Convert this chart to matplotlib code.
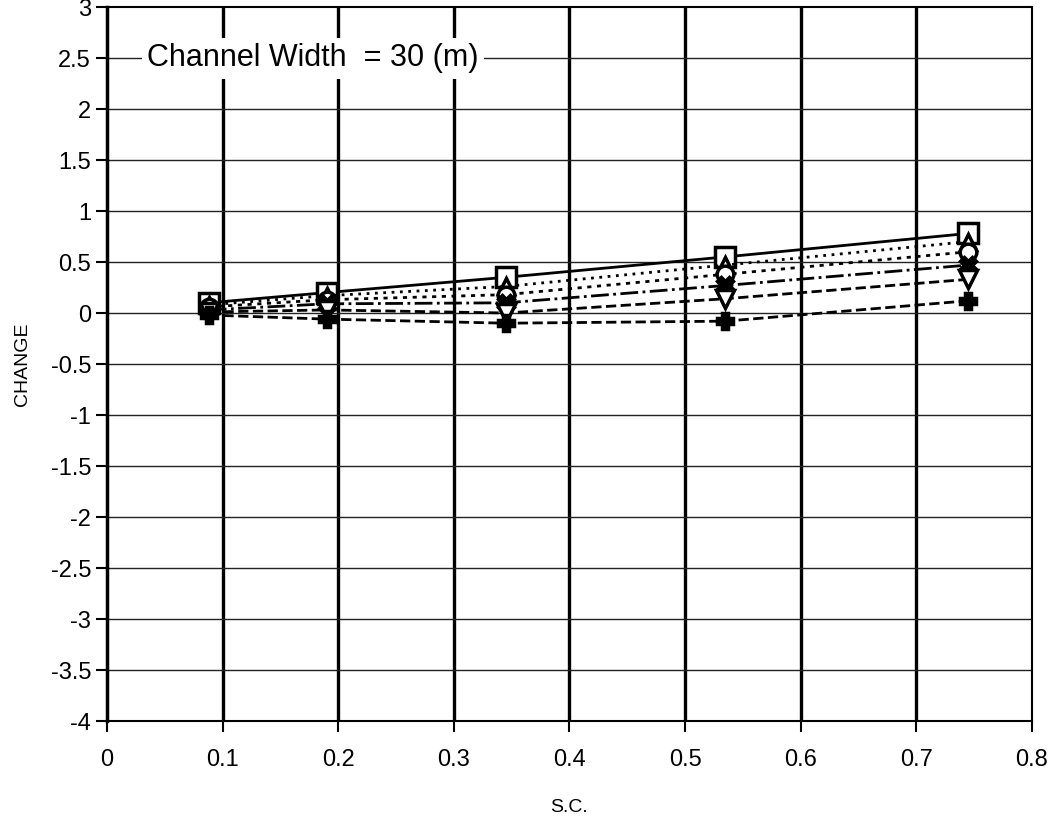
import numpy as np
import matplotlib.pyplot as plt

plt.rcParams['font.family'] = ['Liberation Sans', 'DejaVu Sans']

# storm-channel data
sc = [0.088, 0.19, 0.345, 0.535, 0.745]
series = {
    'sq': [0.10, 0.20, 0.35, 0.55, 0.78],
    'tri': [0.08, 0.17, 0.26, 0.47, 0.70],
    'circ': [0.06, 0.13, 0.18, 0.38, 0.60],
    'x': [0.03, 0.09, 0.10, 0.27, 0.47],
    'tdown': [0.01, 0.03, 0.00, 0.14, 0.33],
    'plus': [-0.02, -0.06, -0.10, -0.08, 0.12],
}
styles = {
    'sq': dict(ls='-', marker='s', ms=15, mfc='white'),
    'tri': dict(ls=(0, (1, 2)), marker='^', ms=12, mfc='white'),
    'circ': dict(ls=(0, (1.5, 2)), marker='o', ms=12, mfc='white'),
    'x': dict(ls='-.', marker='X', ms=12, mfc='black'),
    'tdown': dict(ls='--', marker='v', ms=13, mfc='white'),
    'plus': dict(ls='--', marker='P', ms=12, mfc='black'),
}
xticks = np.arange(0, 0.81, 0.1)
yticks = np.arange(-4, 3.01, 0.5)

fig = plt.figure(figsize=(10.54, 8.24), dpi=100)
ax = fig.add_axes([0.1015, 0.125, 0.8775, 0.8665])

for xv in xticks[1:-1]:
    ax.axvline(xv, color='black', lw=2.4, zorder=1)
for yv in yticks[1:-1]:
    ax.axhline(yv, color='#222222', lw=1.0, zorder=1)

for key, vals in series.items():
    st = styles[key]
    ax.plot(sc, vals, color='black', lw=2, linestyle=st['ls'], marker=st['marker'],
            markersize=st['ms'], markerfacecolor=st['mfc'], markeredgecolor='black',
            markeredgewidth=2.5, zorder=3)

ax.set_xlim(0, 0.8)
ax.set_ylim(-4, 3)
ax.set_xticks(xticks)
ax.set_xticklabels(['0'] + [f'{v:.1f}' for v in xticks[1:]])
ax.set_yticks(yticks)
ax.set_yticklabels([f'{v:g}' for v in yticks])
ax.tick_params(axis='both', direction='out', length=8, width=1.5, labelsize=17)
ax.tick_params(axis='x', pad=12)
for s in ax.spines.values():
    s.set_linewidth(1.5)
ax.spines['left'].set_linewidth(2.5)

ax.set_xlabel('S.C.', fontsize=14, labelpad=20)
ax.set_ylabel('CHANGE', fontsize=14, labelpad=14)

ax.text(0.035, 2.5, 'Channel Width  = 30 (m)', fontsize=22, va='center', ha='left',
        bbox=dict(facecolor='white', edgecolor='none', pad=4), zorder=4)

fig.savefig('out.png', dpi=100)
